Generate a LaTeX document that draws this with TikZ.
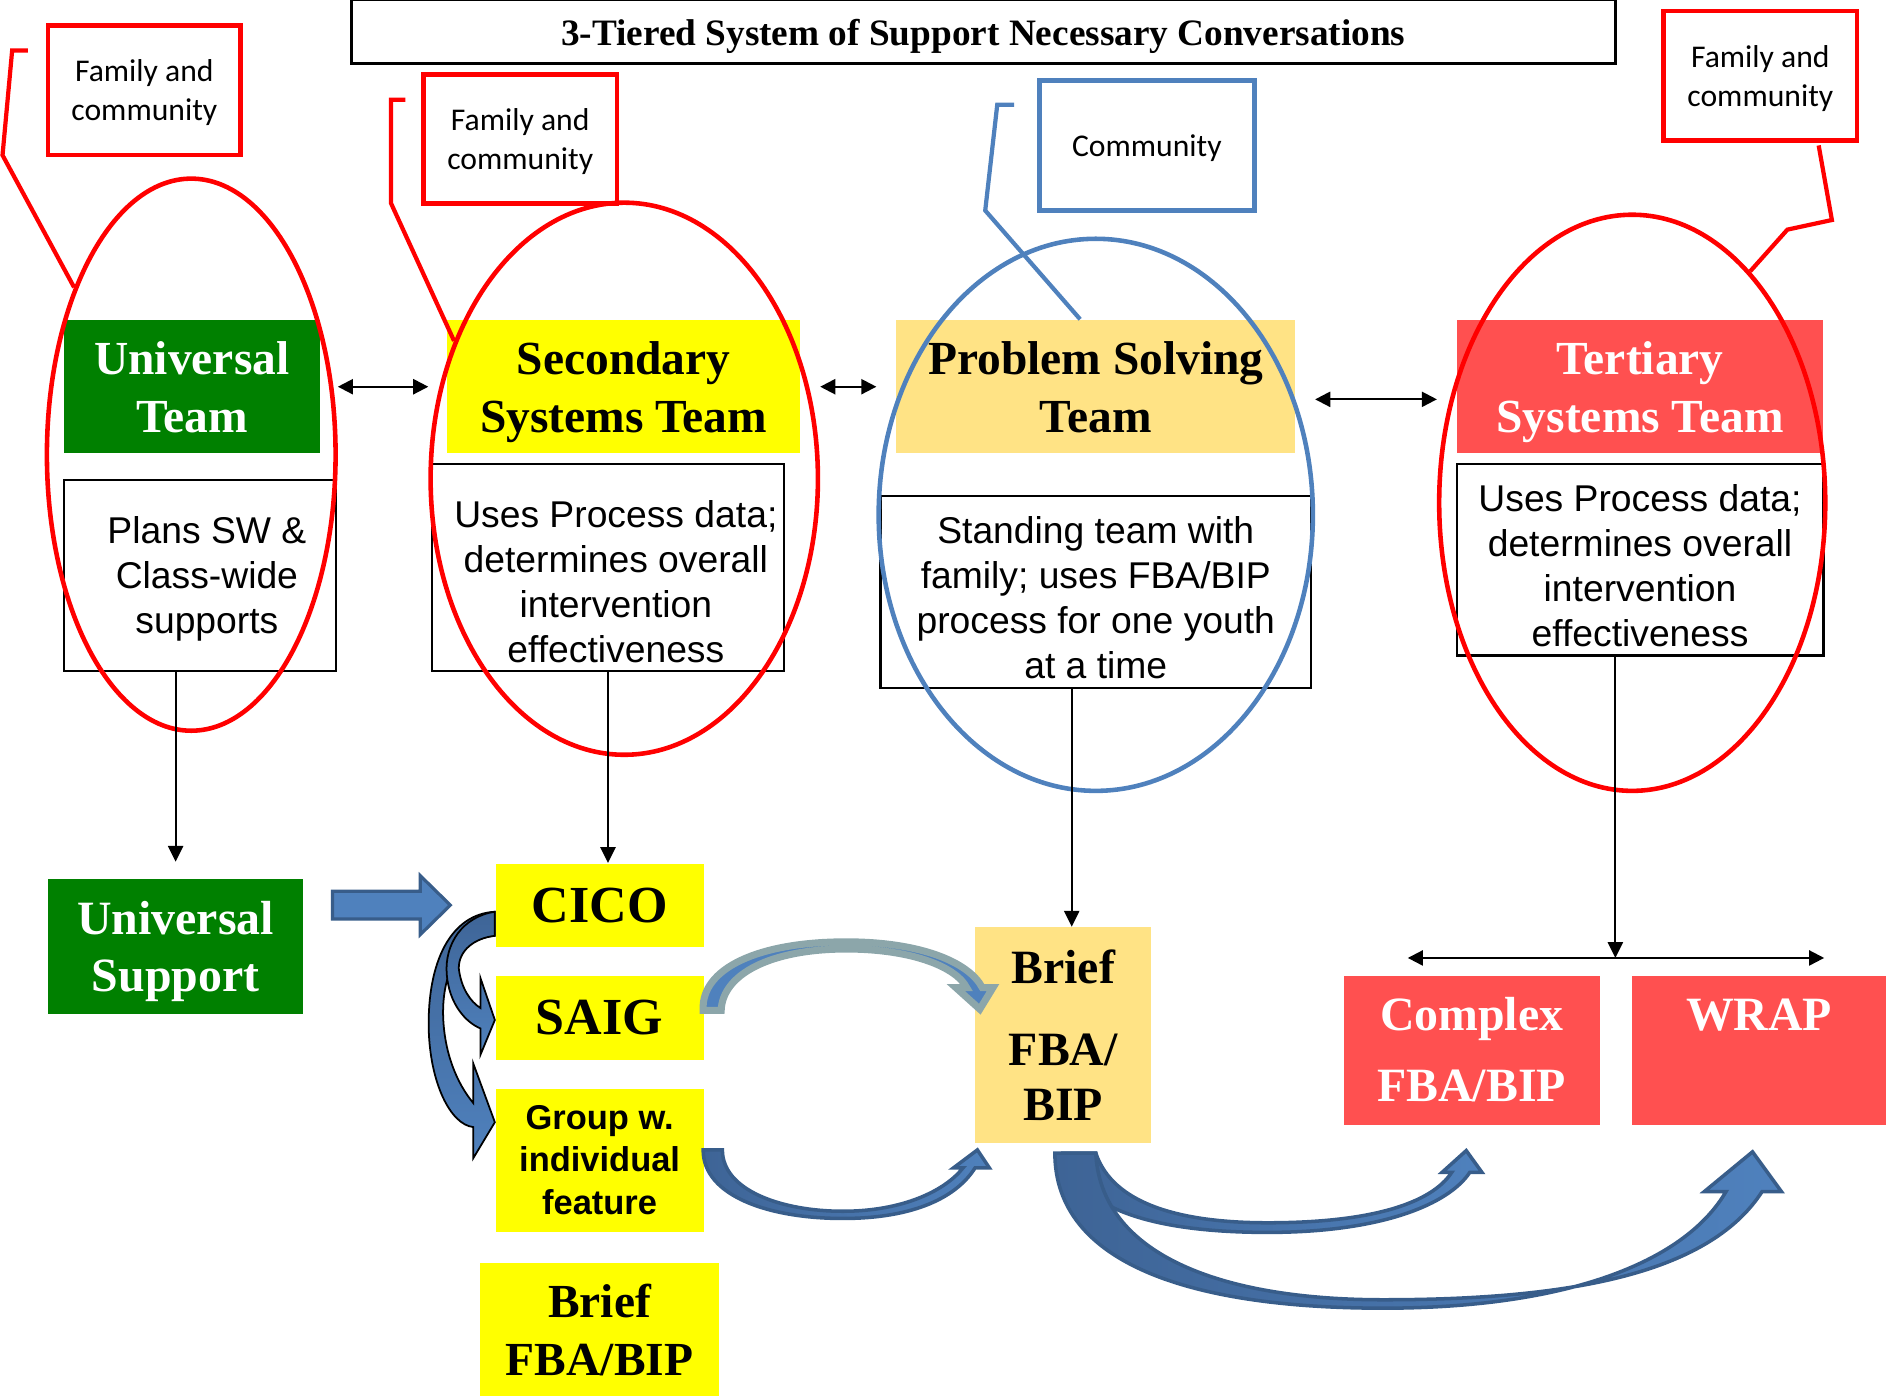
\documentclass[tikz,border=0pt]{standalone}
\usepackage{fontspec}
\setmainfont{Liberation Serif}
\newfontfamily\sansf{Liberation Sans}
\newfontfamily\callf{Carlito}
\usetikzlibrary{shapes.geometric,arrows.meta,calc}

\definecolor{tgreen}{RGB}{0,128,0}
\definecolor{tyellow}{RGB}{255,255,0}
\definecolor{tgold}{RGB}{255,227,133}
\definecolor{tred}{RGB}{255,80,80}
\definecolor{lred}{RGB}{255,0,0}
\definecolor{lblue}{RGB}{79,129,189}
\definecolor{dblue}{RGB}{56,93,138}
\definecolor{mblue}{RGB}{62,100,150}
\definecolor{greyteal}{RGB}{140,166,170}

\newlength\px
\setlength\px{0.012028cm}

\newcommand\titlefont{\fontsize{10.6}{12}\selectfont\bfseries}
\newcommand\hdrfont{\fontsize{13.5}{16.4}\selectfont\bfseries}
\newcommand\bigfont{\fontsize{14.8}{17}\selectfont\bfseries}
\newcommand\callfont{\callf\fontsize{9}{11}\selectfont}
\newcommand\descfont{\sansf\fontsize{10.6}{12.8}\selectfont}
\newcommand\grpfont{\sansf\fontsize{9.8}{12}\selectfont\bfseries}
\newcommand\cxfont{\fontsize{13.6}{20.2}\selectfont\bfseries}

\tikzset{
  titlebox/.style={draw, line width=0.8pt, inner sep=0pt, text depth=0pt, font=\titlefont},
  callred/.style={draw=lred, line width=1.3pt, inner sep=0pt, align=center, text depth=0pt,
    minimum width=160\px, minimum height=108\px, font=\callfont},
  callblue/.style={callred, draw=lblue},
  lead/.style={line width=1.2pt},
  hdr/.style={rectangle, inner sep=0pt, minimum height=111\px, align=center, text depth=0pt, font=\hdrfont},
  desc/.style={draw, line width=0.6pt, inner sep=0pt},
  desctext/.style={inner sep=0pt, align=center, font=\descfont},
  oval/.style={ellipse, line width=1.3pt, inner sep=0pt},
  box/.style={rectangle, inner sep=0pt, align=center, font=\hdrfont},
  arr/.style={line width=0.6pt, -{Triangle[length=4.5pt,width=4.3pt]}},
  dbl/.style={line width=0.6pt, {Triangle[length=4.3pt,width=4.3pt]}-{Triangle[length=4.3pt,width=4.3pt]}},
  blk/.style={fill=lblue, draw=dblue, line width=0.9pt},
  crv/.style={top color=mblue, bottom color=lblue, draw=black, line width=0.5pt},
  arc/.style={left color=mblue, right color=lblue, draw=dblue, line width=1pt}
}

\begin{document}
\begin{tikzpicture}[x=0.012028cm, y=-0.012028cm]
  \useasboundingbox (0,0) rectangle (1568,1161);

  % title
  \node[titlebox, minimum width=1051\px, minimum height=53\px] (title) at (817.5,26.5)
    {3-Tiered System of Support Necessary Conversations};

  % callouts
  \node[callred] (fam1) at (120,75) {Family and\\community};
  \node[callred, minimum width=161\px, minimum height=107\px] (fam2) at (432.5,115.5) {Family and\\community};
  \node[callblue, minimum width=179\px] (comm) at (953.5,121) {Community};
  \node[callred, minimum width=161\px] (fam4) at (1463.5,63) {Family and\\community};

  % team headers
  \node[hdr, fill=tgreen, text=white, minimum width=213\px] (unit) at (159.5,321.5) {Universal\\Team};
  \node[hdr, fill=tyellow, minimum width=293\px] (sect) at (518.5,321.5) {Secondary\\Systems Team};
  \node[hdr, fill=tgold, minimum width=332\px] (probt) at (911,321.5) {Problem Solving\\Team};
  \node[hdr, fill=tred, text=white, minimum width=305\px] (tert) at (1363.5,321.5) {Tertiary\\Systems Team};

  % what each team does
  \node[desc, minimum width=226\px, minimum height=159\px] (unitd) at (166,478.5) {};
  \node[desc, minimum width=293\px, minimum height=172\px] (sectd) at (505.5,472) {};
  \node[desc, minimum width=358\px, minimum height=160\px] (probd) at (911,492) {};
  \node[desc, minimum width=305\px, minimum height=159\px] (tertd) at (1363.5,465.5) {};
  \node[desctext] (unitdt) at ($(unitd)+(6,2.5)$) {Plans SW \&\\Class-wide\\supports};
  \node[desctext] (sectdt) at ($(sectd)+(6.5,11.5)$) {Uses Process data;\\determines overall\\intervention\\effectiveness};
  \node[desctext] (probdt) at ($(probd)+(0,4.5)$) {Standing team with\\family; uses FBA/BIP\\process for one youth\\at a time};
  \node[desctext] (tertdt) at ($(tertd)+(0,4.5)$) {Uses Process data;\\determines overall\\intervention\\effectiveness};

  % circles round the teams
  \node[oval, draw=lred, minimum width=240\px, minimum height=459\px] (unite) at (159,378) {};
  \node[oval, draw=lred, minimum width=322\px, minimum height=459\px] (secte) at (519,398) {};
  \node[oval, draw=lblue, minimum width=361\px, minimum height=459\px] (probe) at (911,428) {};
  \node[oval, draw=lred, minimum width=321\px, minimum height=479\px] (terte) at (1357,418) {};

  % callout leaders
  \draw[lead, lred] ([shift={(-15,-33)}]fam1.west) -- ++(-13,0) -- ++(-8,87) -- (unite.125);
  \draw[lead, lred] ([shift={(-13,-32.5)}]fam2.west) -- ++(-12,0) -- ++(0,86) -- (secte.141);
  \draw[lead, lblue] ([shift={(-19,-34)}]comm.west) -- ++(-14,0) -- ++(-10,88) -- ($(probt.north)+(-13,0)$);
  \draw[lead, lred] ([shift={(48.5,2)}]fam4.south) -- ++(11,62) -- ++(-37,8) -- (terte.63);

  % supports
  \node[box, fill=tgreen, text=white, minimum width=212\px, minimum height=112\px, text depth=0pt,
    font=\fontsize{13.6}{16.1}\selectfont\bfseries] (us) at (146,787) {Universal\\Support};
  \node[box, fill=tyellow, minimum width=173\px, minimum height=69\px, font=\bigfont] (cico) at (498.5,752.5) {CICO};
  \node[box, fill=tyellow, minimum width=173\px, minimum height=70\px, font=\bigfont] (saig) at (498.5,846) {SAIG};
  \node[box, fill=tyellow, minimum width=173\px, minimum height=119\px, font=\grpfont] (grp) at (498.5,964.5)
    {Group w.\\individual\\feature};
  \node[box, fill=tyellow, minimum width=199\px, minimum height=111\px] (bfb) at (498.5,1105.5) {Brief\\FBA/BIP};
  \node[box, fill=tgold, minimum width=146\px, minimum height=179\px,
    font=\fontsize{13.6}{15.7}\selectfont\bfseries] (bfa) at (884,860.5) {Brief\\[7.6pt]FBA/\\BIP};
  \node[box, fill=tred, text=white, minimum width=213\px, minimum height=124\px, font=\cxfont] (cx) at (1223.5,873)
    {Complex\\FBA/BIP};
  \node[box, fill=tred, text=white, minimum width=211\px, minimum height=124\px, font=\cxfont] (wrap) at (1462.5,873)
    {WRAP\\\phantom{FBA/BIP}};

  % team to team
  \draw[dbl] (unite.east |- unit) -- (secte.west |- unit);
  \draw[dbl] (secte.east |- sect) -- (probe.west |- sect);
  \draw[dbl] ($(probe.east |- probt)+(0,10.5)$) -- ($(terte.west |- probt)+(0,10.5)$);

  % team to support
  \draw[arr] (unitd.south -| us.north) -- ($(us.north)+(0,-14)$);
  \draw[arr] (sectd.south) -- (sectd.south |- cico.north);
  \coordinate (pdrop) at ($(probd.south)+(-20,0)$);
  \draw[arr] (pdrop) -- (pdrop |- bfa.north);
  \coordinate (tdrop) at ($(tertd.south)+(-20.5,0)$);
  \coordinate (split) at ($(tdrop |- cx.north)+(0,-14)$);
  \coordinate (lend) at ($(cx.north west)+(54,-14)$);
  \coordinate (rend) at ($(wrap.north east)+(-52,-14)$);
  \draw[arr] (tdrop) -- (split);
  \draw[dbl] (lend) -- (rend);

  % block arrows
  \draw[blk, shift={(cico.west)}] (-135,-11.5) -- (-62,-11.5) -- (-62,-24.5) -- (-37,0)
    -- (-62,24.5) -- (-62,11.5) -- (-135,11.5) -- cycle;
  \draw[crv, shift={(cico.west)}] (0,5.5) .. controls (-37,7.5) and (-56,47.5) .. (-55,102.5)
    .. controls (-54,147.5) and (-37,182.5) .. (-18,184.5) -- (-18,210.5) -- (0,180.5) -- (-18,131.5)
    -- (-18,164.5) .. controls (-32,147.5) and (-42,122.5) .. (-43,92.5)
    .. controls (-44,52.5) and (-27,27.5) .. (0,25.5) -- cycle;
  \draw[crv, shift={(cico.west)}] (0,5.5) .. controls (-27,9.5) and (-42,32.5) .. (-40,57.5)
    .. controls (-38,82.5) and (-24,97.5) .. (-12,102.5) -- (-12,124.5) -- (0,95.5) -- (-12,60.5)
    -- (-12,85.5) .. controls (-20,80.5) and (-28,69.5) .. (-30,52.5)
    .. controls (-30,37.5) and (-17,27.5) .. (0,25.5) -- cycle;
  \draw[fill=lblue, draw=greyteal, line width=2pt, shift={(saig.east)}] (-1,-6)
    .. controls (-3,-41) and (45,-63) .. (118,-63) .. controls (180,-63) and (220,-46) .. (231,-25)
    -- (240,-25) -- (229,-7) -- (209,-25) -- (218,-25)
    .. controls (210,-41) and (175,-57) .. (118,-57) .. controls (55,-57) and (15,-36) .. (14,-6) -- cycle;
  \draw[arc, shift={(grp.east)}] (-1,-8.5) .. controls (-1,30.5) and (55,48.5) .. (115,48.5)
    .. controls (175,48.5) and (210,30.5) .. (225,6.5) -- (237,6.5) -- (227,-8.5) -- (207,6.5) -- (215,6.5)
    .. controls (200,25.5) and (165,42.5) .. (115,42.5) .. controls (65,42.5) and (15,25.5) .. (15,-8.5) -- cycle;
  \draw[arc, shift={(bfa.south)}] (0,8) .. controls (11,55) and (76,74) .. (170,74)
    .. controls (266,74) and (321,50) .. (338,24) -- (348,24) -- (335,6) -- (315,24) -- (323,24)
    .. controls (306,50) and (256,66) .. (170,66) .. controls (96,66) and (41,50) .. (27,8) -- cycle;
  \draw[arc, shift={(bfa.south)}] (-7,8) .. controls (-7,100) and (106,137) .. (266,137)
    .. controls (416,137) and (516,100) .. (551,40) -- (533,40) -- (573,7) -- (597,40) -- (581,40)
    .. controls (536,110) and (416,130) .. (266,130) .. controls (126,130) and (31,90) .. (27,8) -- cycle;
\end{tikzpicture}
\end{document}
